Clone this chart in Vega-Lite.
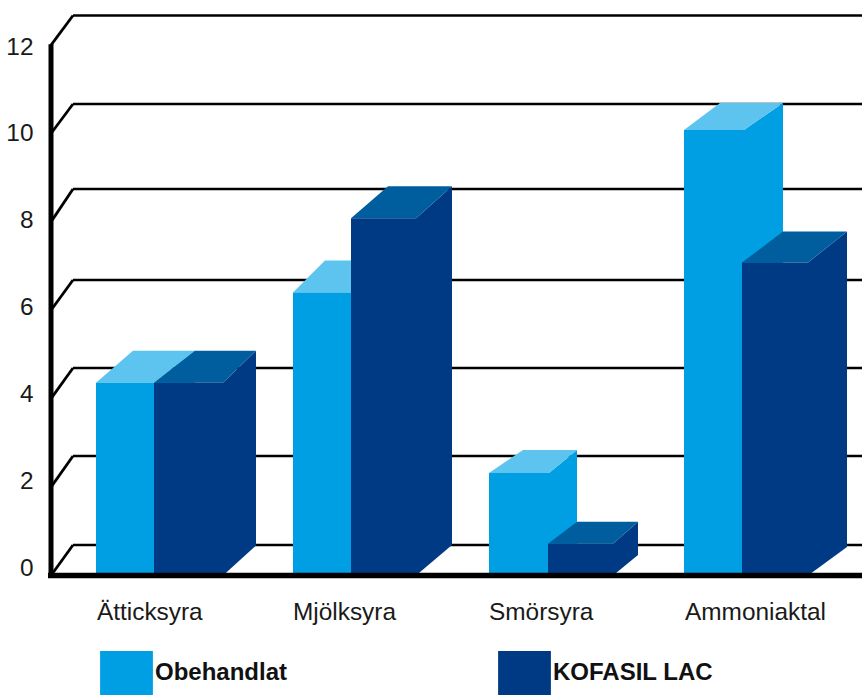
{"$schema":"https://vega.github.io/schema/vega-lite/v6.json","width":814,"height":695,"autosize":"none","padding":{"left":48,"top":0,"right":0,"bottom":0},"background":"white","config":{"view":{"stroke":null},"font":"Liberation Sans"},"datasets":{"bars":[{"category":"Ätticksyra","series":"Obehandlat","value":4.36},{"category":"Ätticksyra","series":"KOFASIL LAC","value":4.36},{"category":"Mjölksyra","series":"Obehandlat","value":6.4},{"category":"Mjölksyra","series":"KOFASIL LAC","value":8.08},{"category":"Smörsyra","series":"Obehandlat","value":2.32},{"category":"Smörsyra","series":"KOFASIL LAC","value":0.72},{"category":"Ammoniaktal","series":"Obehandlat","value":10.08},{"category":"Ammoniaktal","series":"KOFASIL LAC","value":7.08}],"grid":[{"tick":0},{"tick":2},{"tick":4},{"tick":6},{"tick":8},{"tick":10},{"tick":12}],"cats":[{"category":"Ätticksyra"},{"category":"Mjölksyra"},{"category":"Smörsyra"},{"category":"Ammoniaktal"}],"frame":[{"low":0,"high":12.02,"left":-0.2449,"axisX":-0.2296,"right":3.9082}]},"resolve":{"axis":{"x":"independent","y":"independent"}},"layer":[{"data":{"name":"grid"},"transform":[{"calculate":"(575.5-[545,456,368,280,189,104,15.5][datum.tick/2])/44.2","as":"back"},{"calculate":"-0.1173","as":"xb"},{"calculate":"-0.2296","as":"xf"},{"calculate":"3.9082","as":"xr"}],"layer":[{"mark":{"type":"rule","color":"black","strokeWidth":2.6},"encoding":{"x":{"field":"xb","type":"quantitative","axis":null,"scale":{"domain":[-0.2449,3.9082],"nice":false,"zero":false}},"x2":{"field":"xr"},"y":{"field":"back","type":"quantitative","scale":{"domain":[-2.704,13.02],"nice":false,"zero":false},"axis":{"values":[0,2,4,6,8,10,12],"title":null,"grid":false,"domain":false,"ticks":false,"labelFontSize":24.4,"labelColor":"#1a1a1a","labelPadding":15,"labelFlush":false,"labelOffset":{"expr":"-7+datum.value*0.75"}}}}},{"mark":{"type":"rule","color":"black","strokeWidth":2.8},"encoding":{"x":{"field":"xf","type":"quantitative","axis":null,"scale":{"domain":[-0.2449,3.9082],"nice":false,"zero":false}},"x2":{"field":"xb"},"y":{"field":"tick","type":"quantitative","axis":null,"scale":{"domain":[-2.704,13.02],"nice":false,"zero":false}},"y2":{"field":"back"}}}],"resolve":{"axis":{"x":"independent","y":"independent"}}},{"data":{"name":"bars"},"transform":[{"calculate":"indexof(['Ätticksyra','Mjölksyra','Smörsyra','Ammoniaktal'],datum.category)","as":"idx"},{"calculate":"[[[0,58,37,99,32,30],[58,127,99,160,32,30]],[[1,59,33,96,32,30],[59,124,96,160,32,30.5]],[[1,61,35,89,23,20],[60,125,89,150,22,20.5]],[[0,60,36,99,27,25],[58,124,99,163,31,28.5]]][datum.idx][datum.series=='Obehandlat'?0:1]","as":"g"},{"calculate":"0","as":"n0"},{"calculate":"1","as":"n1"},{"fold":["n0","n1"],"as":["end","t"]},{"calculate":"datum.idx+(datum.g[0]+datum.t*(datum.g[2]-datum.g[0]))/196","as":"xl"},{"calculate":"datum.idx+(datum.g[1]+datum.t*(datum.g[3]-datum.g[1]))/196","as":"xr"},{"calculate":"datum.t*datum.g[5]/44.2","as":"base"},{"calculate":"datum.value+datum.t*datum.g[4]/44.2","as":"top"},{"calculate":"datum.series=='Obehandlat'?'#5CC4EE':'#005E9E'","as":"topColor"},{"calculate":"datum.category+datum.series","as":"bar"}],"resolve":{"axis":{"x":"independent","y":"independent"}},"layer":[{"transform":[{"filter":"datum.series=='Obehandlat'"}],"mark":{"type":"area","orient":"vertical","color":"#009FE3"},"encoding":{"x":{"field":"xr","type":"quantitative","axis":null,"scale":{"domain":[-0.2449,3.9082],"nice":false,"zero":false}},"y":{"field":"base","type":"quantitative","axis":null,"scale":{"domain":[-2.704,13.02],"nice":false,"zero":false}},"y2":{"field":"top"},"detail":{"field":"bar"}}},{"transform":[{"filter":"datum.series=='Obehandlat'"}],"mark":{"type":"area","orient":"horizontal"},"encoding":{"y":{"field":"top","type":"quantitative","axis":null,"scale":{"domain":[-2.704,13.02],"nice":false,"zero":false}},"x":{"field":"xl","type":"quantitative","axis":null,"scale":{"domain":[-0.2449,3.9082],"nice":false,"zero":false}},"x2":{"field":"xr"},"fill":{"field":"topColor","type":"nominal","scale":null,"legend":null},"detail":{"field":"bar"}}},{"transform":[{"filter":"datum.series=='Obehandlat' && datum.t==0"}],"mark":{"type":"rect"},"encoding":{"x":{"field":"xl","type":"quantitative","axis":null,"scale":{"domain":[-0.2449,3.9082],"nice":false,"zero":false}},"x2":{"field":"xr"},"y":{"field":"base","type":"quantitative","axis":null,"scale":{"domain":[-2.704,13.02],"nice":false,"zero":false}},"y2":{"field":"top"},"color":{"field":"series","type":"nominal","scale":{"domain":["Obehandlat","KOFASIL LAC"],"range":["#009FE3","#003A85"]},"legend":{"orient":"none","legendX":56.5,"legendY":651,"title":null,"columns":2,"columnPadding":210,"padding":0,"symbolType":"M-1.2,-1H1.2V1H-1.2Z","symbolSize":1936,"symbolStrokeWidth":0,"symbolOpacity":1,"labelFontSize":24,"labelFontWeight":"bold","labelColor":"#111111","labelOffset":6.5,"labelLimit":300}}}},{"transform":[{"filter":"datum.series!='Obehandlat'"}],"mark":{"type":"area","orient":"vertical","color":"#003A85"},"encoding":{"x":{"field":"xr","type":"quantitative","axis":null,"scale":{"domain":[-0.2449,3.9082],"nice":false,"zero":false}},"y":{"field":"base","type":"quantitative","axis":null,"scale":{"domain":[-2.704,13.02],"nice":false,"zero":false}},"y2":{"field":"top"},"detail":{"field":"bar"}}},{"transform":[{"filter":"datum.series!='Obehandlat'"}],"mark":{"type":"area","orient":"horizontal"},"encoding":{"y":{"field":"top","type":"quantitative","axis":null,"scale":{"domain":[-2.704,13.02],"nice":false,"zero":false}},"x":{"field":"xl","type":"quantitative","axis":null,"scale":{"domain":[-0.2449,3.9082],"nice":false,"zero":false}},"x2":{"field":"xr"},"fill":{"field":"topColor","type":"nominal","scale":null,"legend":null},"detail":{"field":"bar"}}},{"transform":[{"filter":"datum.series!='Obehandlat' && datum.t==0"}],"mark":{"type":"rect"},"encoding":{"x":{"field":"xl","type":"quantitative","axis":null,"scale":{"domain":[-0.2449,3.9082],"nice":false,"zero":false}},"x2":{"field":"xr"},"y":{"field":"base","type":"quantitative","axis":null,"scale":{"domain":[-2.704,13.02],"nice":false,"zero":false}},"y2":{"field":"top"},"color":{"field":"series","type":"nominal","scale":{"domain":["Obehandlat","KOFASIL LAC"],"range":["#009FE3","#003A85"]}}}}]},{"data":{"name":"frame"},"mark":{"type":"rule","color":"black","strokeWidth":5},"encoding":{"x":{"field":"axisX","type":"quantitative","axis":null,"scale":{"domain":[-0.2449,3.9082],"nice":false,"zero":false}},"y":{"field":"low","type":"quantitative","axis":null,"scale":{"domain":[-2.704,13.02],"nice":false,"zero":false}},"y2":{"field":"high"}}},{"data":{"name":"frame"},"mark":{"type":"rule","color":"black","strokeWidth":5.5},"encoding":{"x":{"field":"left","type":"quantitative","axis":null,"scale":{"domain":[-0.2449,3.9082],"nice":false,"zero":false}},"x2":{"field":"right"},"y":{"field":"low","type":"quantitative","axis":null,"scale":{"domain":[-2.704,13.02],"nice":false,"zero":false}}}},{"data":{"name":"cats"},"transform":[{"calculate":"indexof(['Ätticksyra','Mjölksyra','Smörsyra','Ammoniaktal'],datum.category)+0.005","as":"pos"},{"calculate":"-0.86","as":"labelY"}],"mark":{"type":"text","align":"left","baseline":"middle","fontSize":24.4,"color":"#1a1a1a"},"encoding":{"x":{"field":"pos","type":"quantitative","axis":null,"scale":{"domain":[-0.2449,3.9082],"nice":false,"zero":false}},"y":{"field":"labelY","type":"quantitative","axis":null,"scale":{"domain":[-2.704,13.02],"nice":false,"zero":false}},"text":{"field":"category"}}}]}
